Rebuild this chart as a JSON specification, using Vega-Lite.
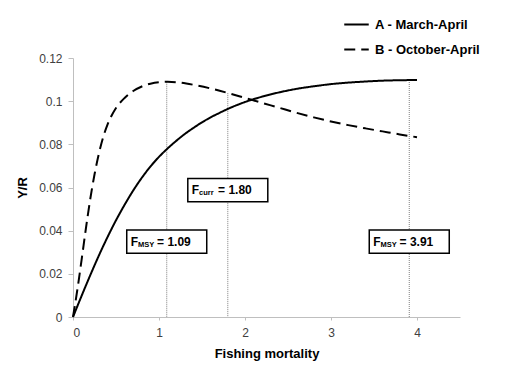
{
  "$schema": "https://vega.github.io/schema/vega-lite/v6.json",
  "autosize": "none",
  "width": 387,
  "height": 259,
  "padding": {"left": 73, "top": 58, "right": 52, "bottom": 68},
  "background": "white",
  "config": {
    "view": {"stroke": null},
    "font": "Liberation Sans",
    "axis": {
      "domainColor": "#bfbfbf",
      "tickColor": "#bfbfbf",
      "grid": false,
      "labelFont": "Liberation Sans",
      "labelFontSize": 12,
      "labelColor": "#404040",
      "titleFont": "Liberation Sans",
      "titleFontSize": 13,
      "titleFontWeight": "bold",
      "titleColor": "#000000"
    }
  },
  "datasets": {
    "curves": [
      {"F": 0, "YR": 0, "series": "A - March-April"},
      {"F": 0.1, "YR": 0.0098, "series": "A - March-April"},
      {"F": 0.2, "YR": 0.0193, "series": "A - March-April"},
      {"F": 0.3, "YR": 0.0284, "series": "A - March-April"},
      {"F": 0.4, "YR": 0.0369, "series": "A - March-April"},
      {"F": 0.5, "YR": 0.0448, "series": "A - March-April"},
      {"F": 0.6, "YR": 0.052, "series": "A - March-April"},
      {"F": 0.7, "YR": 0.0586, "series": "A - March-April"},
      {"F": 0.8, "YR": 0.0645, "series": "A - March-April"},
      {"F": 0.9, "YR": 0.0697, "series": "A - March-April"},
      {"F": 1.0, "YR": 0.0742, "series": "A - March-April"},
      {"F": 1.1, "YR": 0.0781, "series": "A - March-April"},
      {"F": 1.2, "YR": 0.0816, "series": "A - March-April"},
      {"F": 1.3, "YR": 0.0848, "series": "A - March-April"},
      {"F": 1.4, "YR": 0.0876, "series": "A - March-April"},
      {"F": 1.5, "YR": 0.0902, "series": "A - March-April"},
      {"F": 1.6, "YR": 0.0925, "series": "A - March-April"},
      {"F": 1.7, "YR": 0.0945, "series": "A - March-April"},
      {"F": 1.8, "YR": 0.0964, "series": "A - March-April"},
      {"F": 1.9, "YR": 0.0981, "series": "A - March-April"},
      {"F": 2.0, "YR": 0.0996, "series": "A - March-April"},
      {"F": 2.2, "YR": 0.1021, "series": "A - March-April"},
      {"F": 2.4, "YR": 0.1041, "series": "A - March-April"},
      {"F": 2.6, "YR": 0.1057, "series": "A - March-April"},
      {"F": 2.8, "YR": 0.1069, "series": "A - March-April"},
      {"F": 3.0, "YR": 0.1079, "series": "A - March-April"},
      {"F": 3.2, "YR": 0.1086, "series": "A - March-April"},
      {"F": 3.4, "YR": 0.1091, "series": "A - March-April"},
      {"F": 3.6, "YR": 0.1095, "series": "A - March-April"},
      {"F": 3.8, "YR": 0.1097, "series": "A - March-April"},
      {"F": 4.0, "YR": 0.1098, "series": "A - March-April"},
      {"F": 0, "YR": 0, "series": "B - October-April"},
      {"F": 0.05, "YR": 0.0125, "series": "B - October-April"},
      {"F": 0.1, "YR": 0.0265, "series": "B - October-April"},
      {"F": 0.15, "YR": 0.041, "series": "B - October-April"},
      {"F": 0.2, "YR": 0.0545, "series": "B - October-April"},
      {"F": 0.25, "YR": 0.066, "series": "B - October-April"},
      {"F": 0.3, "YR": 0.0755, "series": "B - October-April"},
      {"F": 0.35, "YR": 0.0832, "series": "B - October-April"},
      {"F": 0.4, "YR": 0.089, "series": "B - October-April"},
      {"F": 0.5, "YR": 0.0968, "series": "B - October-April"},
      {"F": 0.6, "YR": 0.1015, "series": "B - October-April"},
      {"F": 0.7, "YR": 0.1047, "series": "B - October-April"},
      {"F": 0.8, "YR": 0.1068, "series": "B - October-April"},
      {"F": 0.9, "YR": 0.1081, "series": "B - October-April"},
      {"F": 1.0, "YR": 0.1088, "series": "B - October-April"},
      {"F": 1.1, "YR": 0.109, "series": "B - October-April"},
      {"F": 1.2, "YR": 0.1088, "series": "B - October-April"},
      {"F": 1.4, "YR": 0.1076, "series": "B - October-April"},
      {"F": 1.6, "YR": 0.1059, "series": "B - October-April"},
      {"F": 1.8, "YR": 0.1038, "series": "B - October-April"},
      {"F": 2.0, "YR": 0.1015, "series": "B - October-April"},
      {"F": 2.2, "YR": 0.0992, "series": "B - October-April"},
      {"F": 2.4, "YR": 0.0969, "series": "B - October-April"},
      {"F": 2.6, "YR": 0.0946, "series": "B - October-April"},
      {"F": 2.8, "YR": 0.0925, "series": "B - October-April"},
      {"F": 3.0, "YR": 0.0906, "series": "B - October-April"},
      {"F": 3.2, "YR": 0.0889, "series": "B - October-April"},
      {"F": 3.4, "YR": 0.0874, "series": "B - October-April"},
      {"F": 3.6, "YR": 0.086, "series": "B - October-April"},
      {"F": 3.8, "YR": 0.0846, "series": "B - October-April"},
      {"F": 4.0, "YR": 0.0833, "series": "B - October-April"}
    ],
    "refs": [
      {"F": 1.09, "top": 0.109, "ly": 0.0349, "sub": "MSY", "val": "= 1.09"},
      {"F": 1.80, "top": 0.1037, "ly": 0.0588, "sub": "curr", "val": "= 1.80"},
      {"F": 3.91, "top": 0.1098, "ly": 0.0349, "sub": "MSY", "val": "= 3.91"}
    ]
  },
  "layer": [
    {
      "data": {"name": "refs"},
      "mark": {"type": "rule", "color": "#7f7f7f", "strokeWidth": 1, "strokeDash": [1, 1]},
      "encoding": {
        "x": {
          "field": "F", "type": "quantitative",
          "scale": {"domain": [0, 4.5], "nice": false},
          "axis": {
            "values": [0, 1, 2, 3, 4], "format": "d", "tickSize": 3, "labelPadding": 7,
            "title": "Fishing mortality", "titleY": 36, "titleBaseline": "middle"
          }
        },
        "y": {
          "field": "top", "type": "quantitative",
          "scale": {"domain": [0, 0.12], "nice": false},
          "axis": {
            "values": [0, 0.02, 0.04, 0.06, 0.08, 0.1, 0.12], "format": ".2~f",
            "tickSize": 5, "labelPadding": 6,
            "title": "Y/R", "titleX": -51, "titleBaseline": "middle"
          }
        },
        "y2": {"datum": 0}
      }
    },
    {
      "data": {"name": "curves"},
      "mark": {"type": "line", "color": "black", "strokeWidth": 2, "interpolate": "monotone"},
      "encoding": {
        "x": {"field": "F", "type": "quantitative"},
        "y": {"field": "YR", "type": "quantitative"},
        "strokeDash": {
          "field": "series", "type": "nominal",
          "scale": {"domain": ["A - March-April", "B - October-April"], "range": [[1, 0], [11, 6]]},
          "legend": {
            "title": null, "orient": "none", "legendX": 270, "legendY": -46,
            "padding": 0, "clipHeight": 25, "rowPadding": 0,
            "symbolType": "stroke", "symbolSize": 600, "symbolStrokeWidth": 2,
            "symbolStrokeColor": "black", "labelOffset": 5,
            "labelFont": "Liberation Sans", "labelFontSize": 13, "labelFontWeight": "bold", "labelColor": "black"
          }
        }
      }
    },
    {
      "data": {"name": "refs"},
      "mark": {"type": "point", "shape": "M-1,-0.29H1V0.29H-1Z", "size": 6400, "filled": true, "fill": "white", "stroke": "black", "strokeWidth": 1.5, "opacity": 1, "dx": -4},
      "encoding": {
        "x": {"field": "F", "type": "quantitative"},
        "y": {"field": "ly", "type": "quantitative"}
      }
    },
    {
      "data": {"name": "refs"},
      "mark": {"type": "text", "align": "left", "baseline": "middle", "dx": -36, "fontSize": 12, "fontWeight": "bold", "color": "black"},
      "encoding": {
        "x": {"field": "F", "type": "quantitative"},
        "y": {"field": "ly", "type": "quantitative"},
        "text": {"value": "F"}
      }
    },
    {
      "data": {"name": "refs"},
      "mark": {"type": "text", "align": "left", "baseline": "middle", "dx": -28.8, "dy": 3, "fontSize": 7.5, "fontWeight": "bold", "color": "black"},
      "encoding": {
        "x": {"field": "F", "type": "quantitative"},
        "y": {"field": "ly", "type": "quantitative"},
        "text": {"field": "sub"}
      }
    },
    {
      "data": {"name": "refs"},
      "mark": {"type": "text", "align": "right", "baseline": "middle", "dx": 24, "fontSize": 12, "fontWeight": "bold", "color": "black"},
      "encoding": {
        "x": {"field": "F", "type": "quantitative"},
        "y": {"field": "ly", "type": "quantitative"},
        "text": {"field": "val"}
      }
    }
  ]
}
